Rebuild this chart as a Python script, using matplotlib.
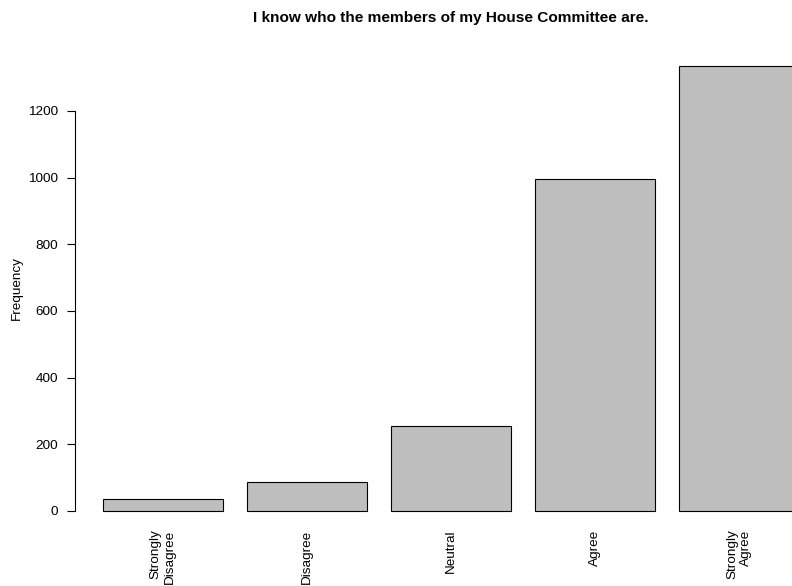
import matplotlib.pyplot as plt
import numpy as np

plt.rcParams["font.family"] = ["Liberation Sans", "DejaVu Sans"]

categories = ["Strongly\nDisagree", "Disagree", "Neutral", "Agree", "Strongly\nAgree"]
counts = [35, 87, 255, 996, 1336]
y_ticks = [0, 200, 400, 600, 800, 1000, 1200]
title = "I know who the members of my House Committee are."

# R-style barplot geometry: width 1, space 0.2
n = len(counts)
lefts = 0.2 + 1.2 * np.arange(n)
centers = lefts + 0.5
x_lo, x_hi = lefts[0], lefts[-1] + 1
x_pad = 0.04 * (x_hi - x_lo)
y_max = max(counts)

fig = plt.figure(figsize=(7.92, 5.86), dpi=100)
ax = fig.add_axes([75 / 792, (586 - 528.8) / 586, 752 / 792, 481 / 586])

ax.bar(centers, counts, width=1.0, color="#BEBEBE", edgecolor="black", linewidth=0.8)

ax.set_xlim(x_lo - x_pad, x_hi + x_pad)
ax.set_ylim(-0.04 * y_max, 1.04 * y_max)

for side in ["top", "right", "bottom"]:
    ax.spines[side].set_visible(False)
ax.spines["left"].set_bounds(y_ticks[0], y_ticks[-1])
ax.spines["left"].set_linewidth(0.8)

ax.set_yticks(y_ticks)
ax.tick_params(axis="y", length=5.8, width=0.8, pad=6.6, labelsize=9.7)

ax.set_xticks(centers)
ax.set_xticklabels(categories, rotation=90, multialignment="right", linespacing=1.25)
ax.tick_params(axis="x", length=0, pad=0.5, labelsize=9.7)

ax.set_ylabel("Frequency", fontsize=9.7)
ax.yaxis.set_label_coords(-0.069, 0.5)

fig.text(451 / 792, (586 - 22) / 586, title, ha="center", va="baseline",
         fontsize=11.05, fontweight="bold")

fig.savefig("out.png", dpi=100)
